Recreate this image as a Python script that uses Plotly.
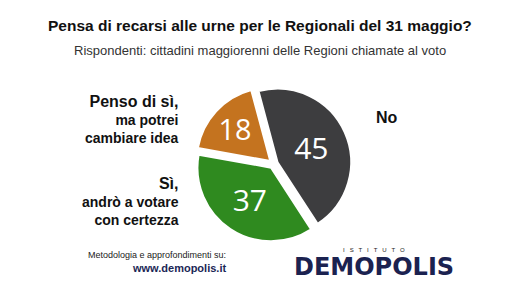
import plotly.graph_objects as go

labels = ["No", "Sì, andrò a votare con certezza", "Penso di sì, ma potrei cambiare idea"]
values = [45, 37, 18]
colors = ["#3d3d3f", "#2f8a1f", "#c4731f"]

W, H = 520, 290
def px(x): return x / W
def py(y): return 1 - y / H

fig = go.Figure()
fig.add_trace(go.Pie(
    labels=labels, values=values, sort=False, direction="clockwise", rotation=-15,
    marker=dict(colors=colors, line=dict(color="white", width=2)),
    pull=[0.06, 0.06, 0.06],
    texttemplate="%{value}", textinfo="value", textposition="inside",
    insidetextorientation="horizontal",
    insidetextfont=dict(color="white", size=30, family="Open Sans"),
    domain=dict(x=[px(182), px(365)], y=[py(242), py(86)]),
    showlegend=False, hoverinfo="label+value",
))

ann = []
ann.append(dict(x=0.5, y=py(26), text="<b>Pensa di recarsi alle urne per le Regionali del 31 maggio?</b>",
                font=dict(family="Liberation Sans, Arial, sans-serif", size=15.5, color="#111"),
                showarrow=False, xanchor="center", yanchor="middle"))
ann.append(dict(x=0.5, y=py(50), text="Rispondenti: cittadini maggiorenni delle Regioni chiamate al voto",
                font=dict(family="Liberation Sans, Arial, sans-serif", size=13, color="#333"),
                showarrow=False, xanchor="center", yanchor="middle"))
lab_font = dict(family="Liberation Sans, Arial, sans-serif", color="#111")
ann.append(dict(x=px(181), y=py(119), xanchor="right", yanchor="middle", align="right", showarrow=False,
                text="<b><span style='font-size:16px'>Penso di sì,</span><br>ma potrei<br>cambiare idea</b>",
                font=dict(size=14, **lab_font)))
ann.append(dict(x=px(181), y=py(202), xanchor="right", yanchor="middle", align="right", showarrow=False,
                text="<b><span style='font-size:16px'>Sì,</span><br>andrò a votare<br>con certezza</b>",
                font=dict(size=14, **lab_font)))
ann.append(dict(x=px(374), y=py(117), xanchor="left", yanchor="middle", showarrow=False,
                text="<b>No</b>", font=dict(size=16, **lab_font)))
ann.append(dict(x=px(228), y=py(255), xanchor="right", yanchor="middle", showarrow=False,
                text="Metodologia e approfondimenti su:", font=dict(size=9, family="Liberation Sans, Arial", color="#222")))
ann.append(dict(x=px(228), y=py(268), xanchor="right", yanchor="middle", showarrow=False,
                text="<b>www.demopolis.it</b>", font=dict(size=11, family="Liberation Sans, Arial", color="#1b2756")))
ann.append(dict(x=px(374), y=py(250), xanchor="center", yanchor="middle", showarrow=False,
                text="I   S   T   I   T   U   T   O", font=dict(size=6, family="Liberation Sans, Arial", color="#222")))
ann.append(dict(x=px(374), y=py(267), xanchor="center", yanchor="middle", showarrow=False,
                text="<b>DEMOPOLIS</b>", font=dict(size=24, family="DejaVu Sans, Arial Black", color="#1b2250")))
fig.update_layout(
    width=W, height=H, margin=dict(l=0, r=0, t=0, b=0),
    paper_bgcolor="white", plot_bgcolor="white",
    annotations=ann,
)
fig.write_html("out.html")
